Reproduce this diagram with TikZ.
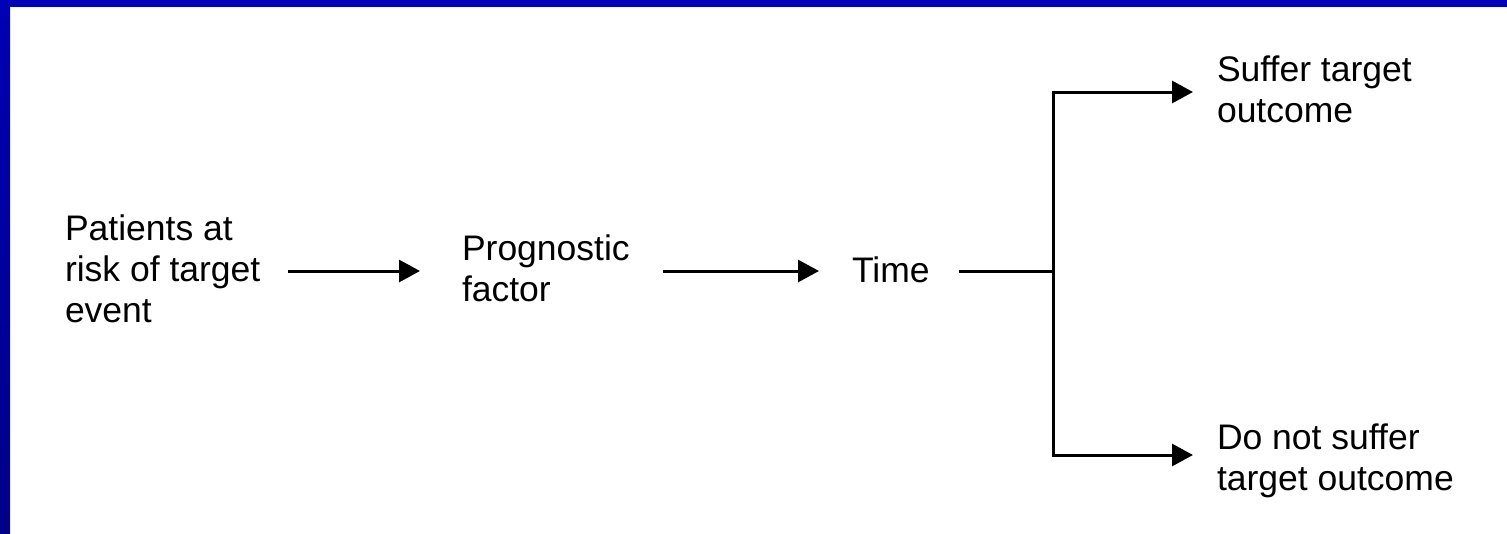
\documentclass[tikz,border=0pt]{standalone}
\usepackage{fontspec}
\setmainfont{Liberation Sans}
\usetikzlibrary{arrows.meta}
\definecolor{bluetop}{RGB}{0,0,181}
\definecolor{bluebot}{RGB}{0,0,136}
\tikzset{
  lbl/.style={inner sep=0pt, outer sep=0pt, align=left, anchor=base west,
    font=\fontsize{35.5}{41}\selectfont},
  conn/.style={line width=3pt, line cap=butt},
  arr/.style={conn, -{Triangle[length=21pt,width=22pt]}}
}
\begin{document}
\begin{tikzpicture}[x=1pt,y=-1pt]
\useasboundingbox (0,0) rectangle (1507,533);
\fill[white] (0,0) rectangle (1507,533);
\fill[bluetop] (0,0) rectangle (1507,7);
\shade[top color=bluetop, bottom color=bluebot] (0,0) rectangle (10,533);
% labels (base anchor = baseline of the last line)
\node[lbl] (pat) at (65,322) {Patients at\\risk of target\\event};
\node[lbl] (prog) at (462,301) {Prognostic\\factor};
\node[lbl] (time) at (852,282) {Time};
\node[lbl] (suf) at (1217,122) {Suffer target\\outcome};
\node[lbl] (nsuf) at (1217,490) {Do not suffer\\target outcome};
% junction coordinates
\coordinate (jmid) at (1053,271);
\coordinate (jtop) at (1053,92);
\coordinate (jbot) at (1053,455);
% connectors
\draw[arr] (288,271) coordinate (a1s) -- (420,271) coordinate (a1e);
\draw[arr] (663,271) coordinate (a2s) -- (819,271) coordinate (a2e);
\draw[conn] (959,271) coordinate (ls) -- (jmid);
\draw[conn] ([yshift=1.5pt]jtop) -- ([yshift=-1.5pt]jbot);
\draw[arr] (jtop) -- (1193,92) coordinate (tope);
\draw[arr] (jbot) -- (1193,455) coordinate (bote);
\end{tikzpicture}
\end{document}
